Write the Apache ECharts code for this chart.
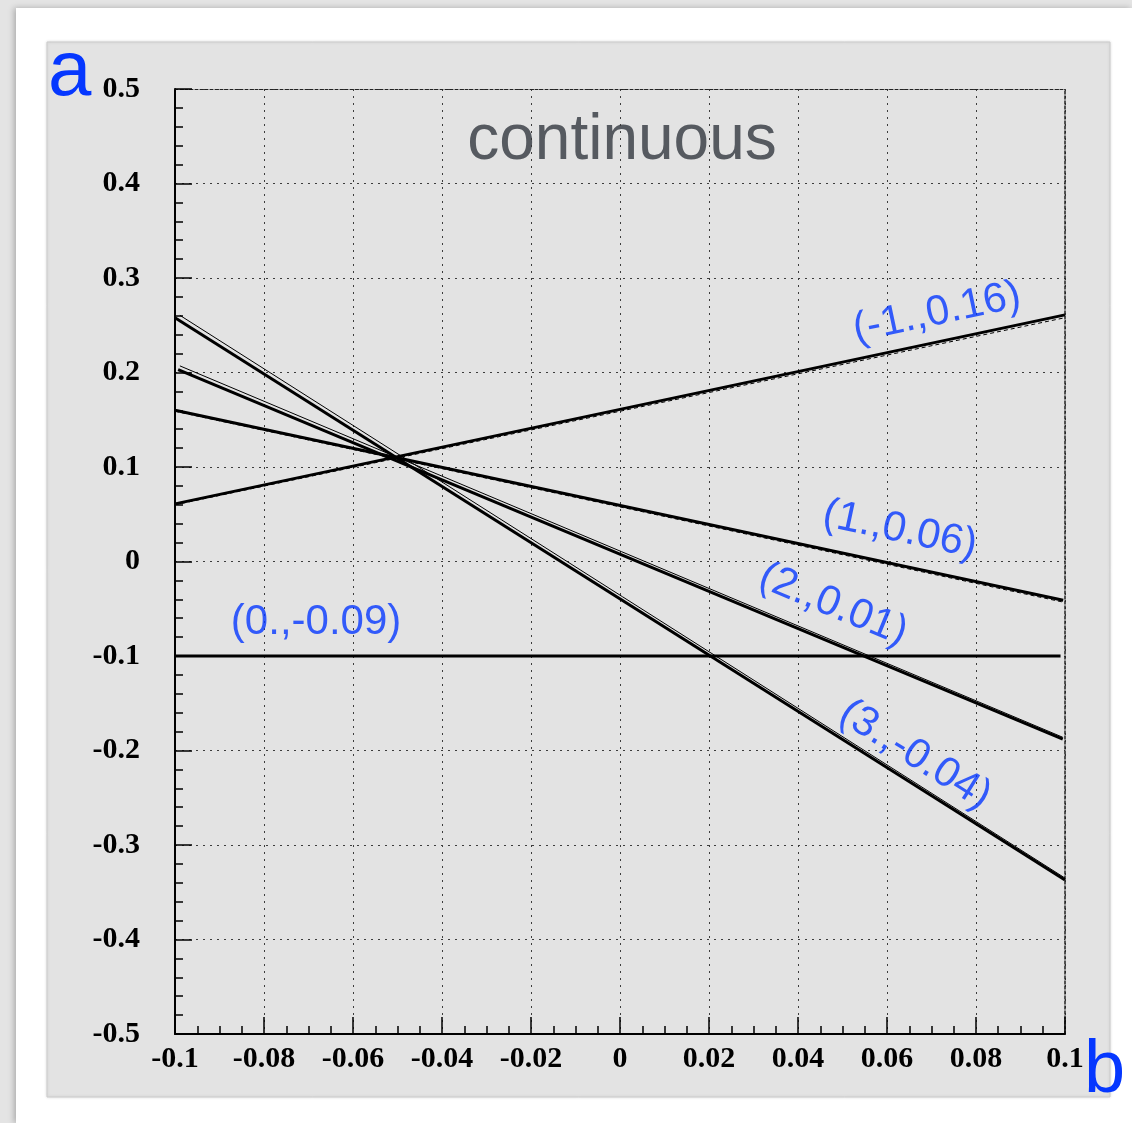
<!DOCTYPE html>
<html>
<head>
<meta charset="utf-8">
<script src="https://cdn.jsdelivr.net/npm/echarts@6/dist/echarts.min.js"></script>
<style>
  html, body { margin: 0; padding: 0; background: #e4e4e4; }
  #chart { width: 1132px; height: 1123px; }
</style>
</head>
<body>
<div id="chart"></div>
<script>
// tick values on both axes
const xTicks = [-0.1, -0.08, -0.06, -0.04, -0.02, 0, 0.02, 0.04, 0.06, 0.08, 0.1];
const yTicks = [-0.5, -0.4, -0.3, -0.2, -0.1, 0, 0.1, 0.2, 0.3, 0.4, 0.5];

// fitted lines, [b, a] end points
const lineSlopeM1 = [[-0.1, 0.061], [0.1, 0.261]];
const lineSlope1 = [[-0.1, 0.160], [0.0996, -0.041]];
const lineSlope2 = [[-0.0993, 0.203], [0.0995, -0.188]];
const lineSlope3 = [[-0.1, 0.258], [0.1, -0.337]];
const lineSlope0 = [[-0.1, -0.1], [0.099, -0.1]];

// companion lines lying just beside the fits
const thinSlope2 = [[-0.0989, 0.207], [0.0995, -0.186]];
const thinSlope3 = [[-0.0989, 0.2605], [0.1, -0.335]];
const dashSlopeM1 = [[-0.1, 0.060], [0.1, 0.258]];
const dashSlope1 = [[-0.1, 0.159], [0.0996, -0.043]];

// text tags beside each line: [b, a, text, angle]
const lineTags = [
  [0.0712, 0.263, "(-1.,0.16)", 12],
  [0.0629, 0.0333, "(1.,0.06)", -12],
  [0.0479, -0.046, "(2.,0.01)", -22.5],
  [0.0663, -0.2048, "(3.,-0.04)", -32],
  [-0.0683, -0.064, "(0.,-0.09)", 0],
];

const BLUE = "#0537ff";
const GRID_DOT = { color: "#3c3c3c", width: 1, type: [2, 5] };
const tickFont = { color: "#000", fontFamily: "Liberation Serif", fontWeight: "bold", fontSize: 30 };

const fmt = (v) => String(+v.toFixed(3));

const solid = (data, width) => ({
  type: "line", data, showSymbol: false, silent: true,
  lineStyle: { color: "#000", width, type: "solid" },
  z: 3,
});

const dashed = (data) => ({
  type: "line", data, showSymbol: false, silent: true,
  lineStyle: { color: "#000", width: 1, type: [4, 3] },
  z: 2,
});

const chart = echarts.init(document.getElementById("chart"), null, { renderer: "canvas" });

chart.setOption({
  animation: false,
  backgroundColor: "#e4e4e4",
  graphic: [
    { type: "rect", z: -20, shape: { x: 16, y: 8, width: 1116, height: 1115 },
      style: { fill: "#ffffff", shadowBlur: 6, shadowColor: "rgba(0,0,0,0.25)", shadowOffsetX: -2 } },
    { type: "rect", z: -15, shape: { x: 47, y: 42, width: 1063, height: 1055 },
      style: { fill: "#e3e3e3", stroke: "#cbcbcb", lineWidth: 1, shadowBlur: 3, shadowColor: "rgba(0,0,0,0.12)" } },
    { type: "text", z: -10, x: 622, y: 141,
      style: { text: "continuous", align: "center", verticalAlign: "middle",
        font: "64px 'Liberation Sans', Arial, sans-serif", fill: "#565a60" } },
    { type: "text", z: 10, x: 48, y: 34,
      style: { text: "a", align: "left", verticalAlign: "top",
        font: "78px 'Liberation Sans', Arial, sans-serif", fill: BLUE } },
    { type: "text", z: 10, x: 1084, y: 1035,
      style: { text: "b", align: "left", verticalAlign: "top",
        font: "74px 'Liberation Sans', Arial, sans-serif", fill: BLUE } },
  ],
  grid: { left: 175, right: 67, top: 89, bottom: 89, containLabel: false },
  xAxis: [
    {
      type: "value", min: xTicks[0], max: xTicks[xTicks.length - 1], interval: 0.02,
      axisLine: { onZero: false, lineStyle: { color: "#000", width: 2 } },
      axisTick: { inside: true, length: 17, lineStyle: { color: "#000", width: 1.5 } },
      minorTick: { show: true, splitNumber: 4, length: 8, lineStyle: { color: "#000", width: 1.5 } },
      axisLabel: { ...tickFont, margin: 10, formatter: fmt, showMinLabel: true, showMaxLabel: true },
      splitLine: { show: true, lineStyle: GRID_DOT },
    },
    {
      type: "value", position: "top", min: xTicks[0], max: xTicks[xTicks.length - 1], interval: 0.02,
      axisLine: { onZero: false, lineStyle: { color: "#222", width: 1, type: [3, 2] } },
      axisTick: { show: false }, axisLabel: { show: false }, splitLine: { show: false },
    },
  ],
  yAxis: [
    {
      type: "value", min: yTicks[0], max: yTicks[yTicks.length - 1], interval: 0.1,
      axisLine: { show: true, onZero: false, lineStyle: { color: "#000", width: 2 } },
      axisTick: { show: true, inside: true, length: 17, lineStyle: { color: "#000", width: 1.5 } },
      minorTick: { show: true, splitNumber: 5, length: 8, lineStyle: { color: "#000", width: 1.5 } },
      axisLabel: { ...tickFont, margin: 35, formatter: fmt, showMinLabel: true, showMaxLabel: true },
      splitLine: { show: true, lineStyle: GRID_DOT },
    },
    {
      type: "value", position: "right", min: yTicks[0], max: yTicks[yTicks.length - 1], interval: 0.1,
      axisLine: { show: true, onZero: false, lineStyle: { color: "#222", width: 1.5, type: [3, 2] } },
      axisTick: { show: false }, axisLabel: { show: false }, splitLine: { show: false },
    },
  ],
  series: [
    dashed(dashSlopeM1),
    dashed(dashSlope1),
    solid(thinSlope2, 1),
    solid(thinSlope3, 1),
    solid(lineSlopeM1, 3),
    solid(lineSlope1, 3),
    solid(lineSlope2, 3),
    solid(lineSlope3, 3),
    solid(lineSlope0, 3),
    {
      type: "scatter", symbolSize: 0, silent: true, z: 6,
      data: lineTags.map(([b, a, text, angle]) => ({
        value: [b, a],
        label: { show: true, formatter: text, rotate: angle },
      })),
      label: {
        position: "inside", color: BLUE, fontSize: 42,
        fontFamily: "Liberation Sans, Arial, sans-serif",
      },
    },
  ],
});
</script>
</body>
</html>
